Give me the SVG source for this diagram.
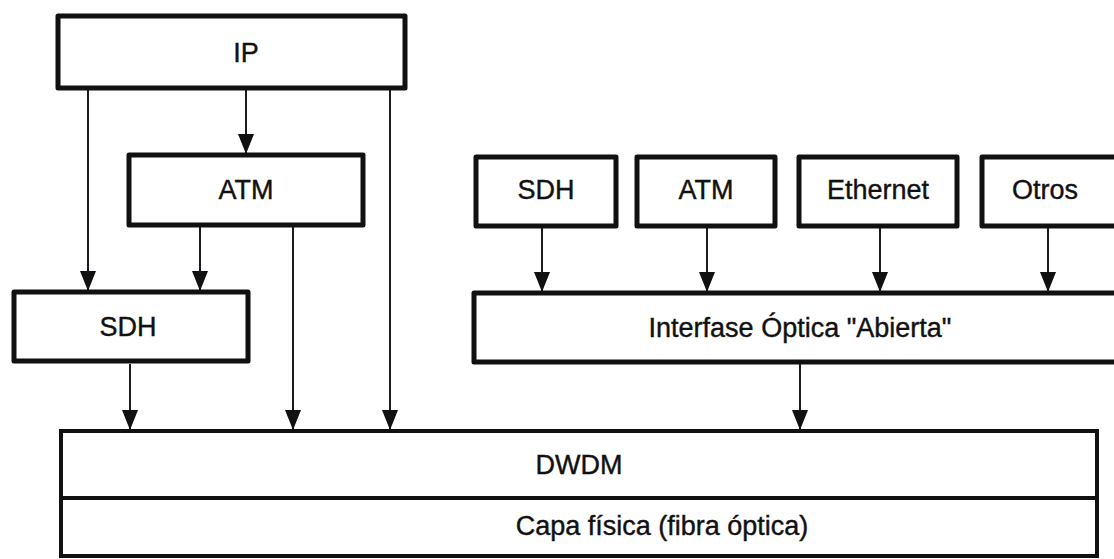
<svg xmlns="http://www.w3.org/2000/svg" width="1114" height="559" viewBox="0 0 1114 559">
  <style>
    .box { fill: #ffffff; stroke: #111111; stroke-width: 5; stroke-linejoin: round; }
    .layer { fill: #ffffff; stroke: #111111; stroke-width: 4; }
    .lbl { font-family: "Liberation Sans", Arial, sans-serif; font-size: 27px; fill: #111111; stroke: #111111; stroke-width: 0.4; text-anchor: middle; }
    .link { stroke: #1a1a22; stroke-width: 2; fill: none; marker-end: url(#head); }
  </style>
  <defs>
    <!-- solid triangular arrowhead, tip at the end of the line -->
    <marker id="head" markerUnits="userSpaceOnUse" markerWidth="20" markerHeight="18" viewBox="0 0 20 18" refX="20" refY="9" orient="auto">
      <path d="M0,1 L20,9 L0,17 Z" fill="#111111"/>
    </marker>
  </defs>
  <rect width="1114" height="559" fill="#ffffff"/>

  <!-- connectors -->
  <g id="connectors">
    <line class="link" x1="88" y1="90" x2="88" y2="291"/>
    <line class="link" x1="246" y1="90" x2="246" y2="154"/>
    <line class="link" x1="390" y1="90" x2="390" y2="430"/>
    <line class="link" x1="200" y1="227" x2="200" y2="291"/>
    <line class="link" x1="293" y1="227" x2="293" y2="430"/>
    <line class="link" x1="130" y1="364" x2="130" y2="430"/>
    <line class="link" x1="542" y1="228" x2="542" y2="292"/>
    <line class="link" x1="707" y1="228" x2="707" y2="292"/>
    <line class="link" x1="880" y1="228" x2="880" y2="292"/>
    <line class="link" x1="1048" y1="228" x2="1048" y2="292"/>
    <line class="link" x1="800" y1="364" x2="800" y2="430"/>
  </g>

  <g id="ip">
    <rect class="box" x="58" y="16" width="347" height="72"/>
    <text class="lbl" x="246" y="62">IP</text>
  </g>
  <g id="atm-left">
    <rect class="box" x="129" y="155" width="234" height="70"/>
    <text class="lbl" x="246" y="199">ATM</text>
  </g>
  <g id="sdh-left">
    <rect class="box" x="14" y="292" width="234" height="69"/>
    <text class="lbl" x="128" y="336">SDH</text>
  </g>

  <g id="sdh-right">
    <rect class="box" x="476" y="157" width="140" height="69"/>
    <text class="lbl" x="546" y="199">SDH</text>
  </g>
  <g id="atm-right">
    <rect class="box" x="637" y="157" width="138" height="69"/>
    <text class="lbl" x="706" y="199">ATM</text>
  </g>
  <g id="ethernet">
    <rect class="box" x="799" y="157" width="158" height="69"/>
    <text class="lbl" x="878" y="199">Ethernet</text>
  </g>
  <g id="otros">
    <rect class="box" x="982" y="157" width="150" height="69"/>
    <text class="lbl" x="1045" y="199">Otros</text>
  </g>

  <g id="interfase">
    <rect class="box" x="474" y="293" width="660" height="69"/>
    <text class="lbl" x="800" y="337">Interfase Óptica "Abierta"</text>
  </g>

  <g id="dwdm">
    <rect class="layer" x="61" y="431" width="1036" height="125"/>
    <line x1="61" y1="498" x2="1097" y2="498" stroke="#111111" stroke-width="4"/>
    <text class="lbl" x="579" y="474">DWDM</text>
    <text class="lbl" x="662" y="535">Capa física (fibra óptica)</text>
  </g>
</svg>
